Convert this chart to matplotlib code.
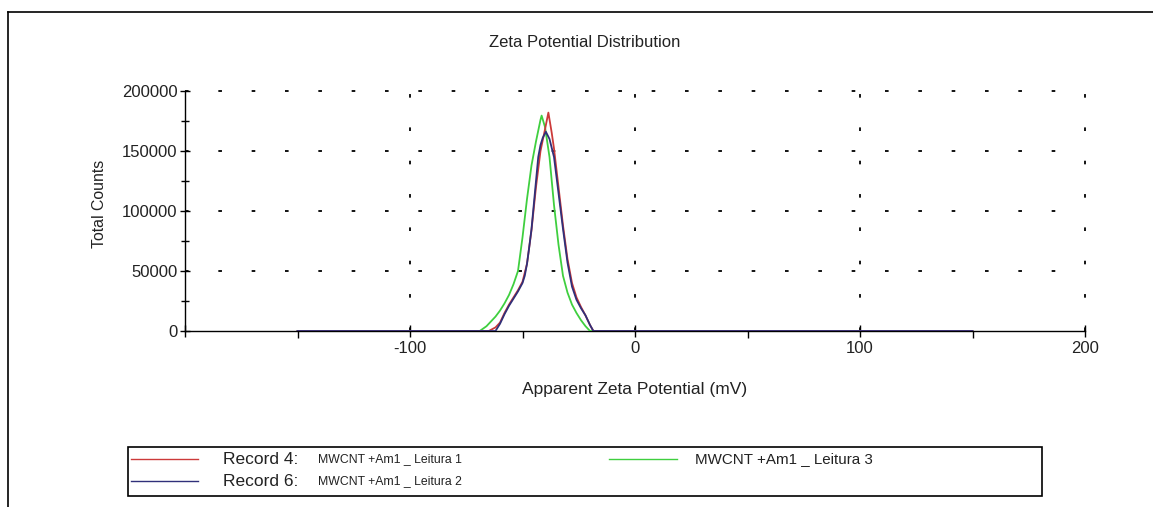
import numpy as np
import matplotlib
matplotlib.use("Agg")
import matplotlib.pyplot as plt
from matplotlib.lines import Line2D
from matplotlib.patches import Rectangle

plt.rcParams['font.family'] = ['Liberation Sans', 'DejaVu Sans']
plt.rcParams['lines.scale_dashes'] = False

################## DATA ##########################################################################
# Record 4: MWCNT +Am1 _ Leitura 1
rec4_mv = [-150, -65, -62, -60, -58, -56, -54, -52, -50, -48, -46, -44, -42, -40, -38.5,
           -37, -36, -34, -32, -30, -28, -26, -24, -22, -20, -18.5, 150]
rec4_counts = [0, 0, 3000, 7000, 15000, 22000, 28000, 34000, 41000, 56000, 84000, 120000, 150000,
               168000, 182000, 165000, 152000, 120000, 88000, 60000, 40000, 28000, 20000, 13000,
               5000, 0, 0]

# Record 6: MWCNT +Am1 _ Leitura 2
rec6_mv = [-150, -62, -60, -58, -56, -54, -52, -50, -49, -48, -47, -46, -44, -43, -42, -41,
           -39.6, -38, -36, -34, -32, -30, -28, -26, -24, -22, -20, -18.5, 150]
rec6_counts = [0, 0, 6000, 14000, 21000, 27000, 33000, 40000, 46000, 56000, 70000, 85000, 125000,
               145000, 155000, 161000, 166000, 160000, 145000, 115000, 85000, 57000, 37000, 26000,
               19000, 13000, 5000, 0, 0]

# MWCNT +Am1 _ Leitura 3
rec3_mv = [-150, -69, -66, -64, -62, -60, -58, -56, -54, -52, -50, -48, -46, -44, -42, -41.5,
           -40, -38, -36, -34, -32, -30, -28, -26, -24, -22, -20, 150]
rec3_counts = [0, 0, 4000, 8000, 12000, 17000, 23000, 30000, 39000, 50000, 78000, 110000, 138000,
               158000, 176000, 179500, 170000, 145000, 105000, 72000, 46000, 32000, 22000, 15000,
               9000, 4000, 0, 0]

xTicks = [-200, -100, 0, 100, 200]
xTickLabels = ["", "-100", "0", "100", "200"]
yTicks = [0, 50000, 100000, 150000, 200000]
yTickLabels = ["0", "50000", "100000", "150000", "200000"]

redColor = "#cc3a3a"
blueColor = "#30307a"
greenColor = "#3fcf3f"
textColor = "#222222"

################## FIGURE ########################################################################
fig = plt.figure(figsize=(11.53, 5.07), dpi=100)
ax = fig.add_axes([185/1153., 1-331/507., 900/1153., 240/507.])

ax.plot(rec3_mv, rec3_counts, color=greenColor, linewidth=1.3, zorder=3)
ax.plot(rec4_mv, rec4_counts, color=redColor, linewidth=1.3, zorder=4)
ax.plot(rec6_mv, rec6_counts, color=blueColor, linewidth=1.3, zorder=5)

ax.set_xlim(-200, 200)
ax.set_ylim(0, 200000)
ax.set_xticks(xTicks)
ax.set_xticklabels(xTickLabels)
ax.set_xticks([-150, -50, 50, 150], minor=True)
ax.set_yticks(yTicks)
ax.set_yticklabels(yTickLabels)
ax.set_yticks([25000, 75000, 125000, 175000], minor=True)

ax.tick_params(axis='x', which='major', direction='inout', length=8, width=1, labelsize=12,
               pad=3, labelcolor=textColor)
ax.tick_params(axis='x', which='minor', direction='out', length=5, width=1)
ax.tick_params(axis='y', which='major', direction='inout', length=7, width=1, labelsize=12,
               pad=2, labelcolor=textColor)
ax.tick_params(axis='y', which='minor', direction='inout', length=6, width=1)

for s in ['top', 'right']:
    ax.spines[s].set_visible(False)
for s in ['left', 'bottom']:
    ax.spines[s].set_linewidth(1.0)
    ax.spines[s].set_zorder(2)

# dotted style grid: short dashes, wide gaps
gridStyle = (0, (2.6, 21.4))
for g in [-100, 0, 100, 200]:
    ax.axvline(g, color='black', linewidth=1.3, linestyle=gridStyle, zorder=1, clip_on=False)
for g in [50000, 100000, 150000, 200000]:
    ax.axhline(g, color='black', linewidth=1.3, linestyle=gridStyle, zorder=1, clip_on=False)

ax.set_xlabel("Apparent Zeta Potential (mV)", fontsize=12.5, color=textColor)
ax.xaxis.set_label_coords((635-185)/900., -(382-331)/240.)
ax.set_ylabel("Total Counts", fontsize=11.4, color=textColor)
ax.yaxis.set_label_coords((107-185)/900., (331-204)/240.)
fig.text(585/1153., 1-47/507., "Zeta Potential Distribution", fontsize=12,
         ha='center', va='baseline', color=textColor)

################## OUTER FRAME ###################################################################
fig.add_artist(Line2D([8/1153., 8/1153.], [0, 1-12/507.], color='black', linewidth=1.2))
fig.add_artist(Line2D([8/1153., 1], [1-12/507., 1-12/507.], color='black', linewidth=1.2))

################## LEGEND ########################################################################
fig.add_artist(Rectangle((128/1153., 1-496/507.), (1042-128)/1153., 49/507.,
                         fill=False, edgecolor='black', linewidth=1.2))

def legendLine(x0, x1, y, c):
    fig.add_artist(Line2D([x0/1153., x1/1153.], [1-y/507., 1-y/507.], color=c, linewidth=1.0))

legendLine(131, 198, 459, redColor)
legendLine(131, 198, 481, blueColor)
legendLine(609, 677, 459, greenColor)
fig.text(223/1153., 1-459/507., "Record 4:", fontsize=12.5, va='center', color=textColor)
fig.text(223/1153., 1-481/507., "Record 6:", fontsize=12.5, va='center', color=textColor)
fig.text(318/1153., 1-459/507., "MWCNT +Am1 _ Leitura 1", fontsize=8.8, va='center', color=textColor)
fig.text(318/1153., 1-481/507., "MWCNT +Am1 _ Leitura 2", fontsize=8.8, va='center', color=textColor)
fig.text(695/1153., 1-459/507., "MWCNT +Am1 _ Leitura 3", fontsize=10.9, va='center', color=textColor)

fig.savefig("out.png", dpi=100)
